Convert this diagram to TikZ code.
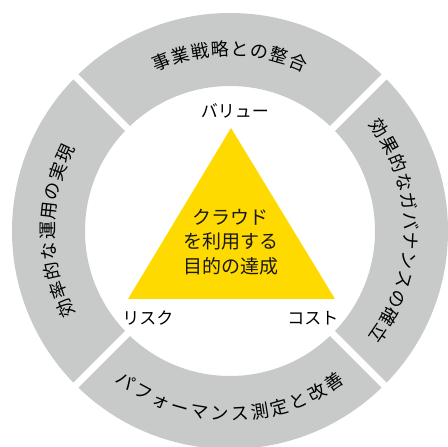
\documentclass[tikz,border=0pt]{standalone}
\usepackage{fontspec}
\setmainfont{Noto Sans CJK JP}
\definecolor{ringgray}{RGB}{200,201,201}
\definecolor{triyellow}{RGB}{255,218,0}
\tikzset{
  ringch/.style={inner sep=0pt, text height=0.8em, text depth=0.06em, font=\fontsize{18}{20}\selectfont, text=black},
  lbl/.style={inner sep=0pt, font=\fontsize{17}{20}\selectfont, text=black},
  core/.style={inner sep=0pt, align=center, font=\fontsize{19}{24.5}\selectfont, text=black!90}
}
\begin{document}
\begin{tikzpicture}[x=1pt,y=1pt]
\useasboundingbox (-230,-216) rectangle (218,231);
% ring
\fill[ringgray, even odd rule] (0,0) circle (218) (0,0) circle (145);
\foreach \g in {45,135,225,315} {
  \coordinate (gin\g) at (\g:138);
  \coordinate (gout\g) at (\g:225);
  \draw[white, line width=7pt] (gin\g) -- (gout\g);
}
% triangle
\coordinate (apex) at (1,103);
\coordinate (bl) at (-102,-68);
\coordinate (br) at (105,-68);
\fill[triyellow] (apex) -- (bl) -- (br) -- cycle;
\node[core] (goal) at (1,-11) {クラウド\\を利用する\\目的の達成};
\node[lbl] (value) at (5,120) {バリュー};
\node[lbl] (risk) at (-82,-87) {リスク};
\node[lbl] (cost) at (83,-87) {コスト};
% ring texts
\def\st{6.3}
\foreach \ch [count=\i] in {事,業,戦,略,と,の,整,合} {
  \pgfmathsetmacro\a{90+4.5*\st-\i*\st}
  \node[ringch, rotate=\a-90] (top\i) at (\a:179) {\ch};
}
\foreach \ch [count=\i] in {効,果,的,な,ガ,バ,ナ,ン,ス,の,確,立} {
  \pgfmathsetmacro\a{0+6.5*\st-\i*\st}
  \node[ringch, rotate=\a-90] (right\i) at (\a:178) {\ch};
}
\foreach \ch [count=\i] in {効,率,的,な,運,用,の,実,現} {
  \pgfmathsetmacro\a{180+5*\st-\i*\st}
  \node[ringch, rotate=\a-90] (left\i) at (\a:179) {\ch};
}
\foreach \ch [count=\i] in {パ,フ,ォ,ー,マ,ン,ス,測,定,と,改,善} {
  \pgfmathsetmacro\a{270-6.5*\st+\i*\st}
  \node[ringch, rotate=\a+90] (bottom\i) at (\a:186) {\ch};
}
\end{tikzpicture}
\end{document}
